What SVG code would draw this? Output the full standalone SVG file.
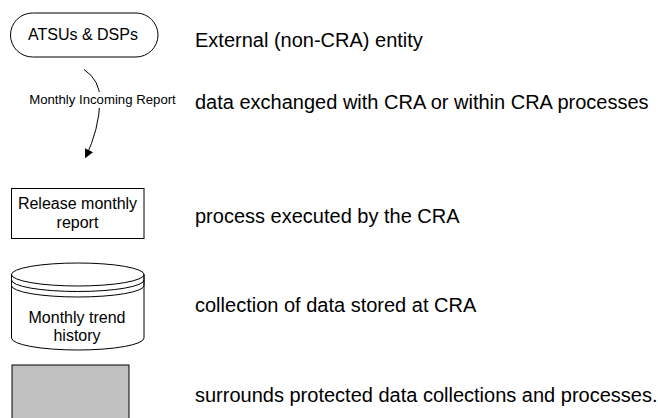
<svg xmlns="http://www.w3.org/2000/svg" width="658" height="418" viewBox="0 0 658 418">
<defs>
<style>
text{font-family:"Liberation Sans",Arial,sans-serif;fill:#000}
.lbl{font-size:20px}
.nd{font-size:16px;text-anchor:middle}
.sm{font-size:13.2px;text-anchor:middle}
.shp{fill:#fff;stroke:#000;stroke-width:1}
.edge{fill:none;stroke:#000;stroke-width:1}
</style>
<marker id="arr" viewBox="0 0 10 10" refX="9" refY="5" markerWidth="9" markerHeight="9" markerUnits="userSpaceOnUse" orient="auto">
<path d="M0,0 L10,5 L0,10 Z" fill="#000"/>
</marker>
</defs>
<rect width="658" height="418" fill="#fff"/>
<g id="connectors">
<path class="edge" d="M84,69.5 Q100,80 100,100 Q99,130 85.5,157.5" marker-end="url(#arr)"/>
<rect x="30" y="92" width="146" height="16" fill="#fff"/>
<text class="sm" x="102.5" y="104">Monthly Incoming Report</text>
</g>
<g id="external-entity">
<rect class="shp" x="10.5" y="13" width="147.5" height="44" rx="22" ry="22"/>
<text class="nd" x="83" y="40">ATSUs &amp; DSPs</text>
</g>
<g id="process">
<rect class="shp" x="11.5" y="188.5" width="132.5" height="50"/>
<text class="nd" x="77.5" y="208.5">Release monthly</text>
<text class="nd" x="77.5" y="227.5">report</text>
</g>
<g id="datastore">
<path class="shp" d="M11.5,274.5 L11.5,338 A66.25,12 0 0 0 144,338 L144,274.5 A66.25,11.5 0 0 0 11.5,274.5 Z"/>
<path class="edge" d="M11.5,274.5 A66.25,11.5 0 0 0 144,274.5"/>
<path class="edge" d="M11.5,274.5 L11.5,280 A66.25,11.5 0 0 0 144,280 L144,274.5"/>
<path class="edge" d="M11.5,280 L11.5,285.5 A66.25,11.5 0 0 0 144,285.5 L144,280"/>
<text class="nd" x="77" y="323">Monthly trend</text>
<text class="nd" x="77" y="340.5">history</text>
</g>
<g id="protected-area">
<rect x="12" y="365" width="117" height="60" fill="#c0c0c0" stroke="#000" stroke-width="1"/>
</g>
<g id="legend-texts">
<text class="lbl" x="195" y="47">External (non-CRA) entity</text>
<text class="lbl" x="195" y="108.5">data exchanged with CRA or within CRA processes</text>
<text class="lbl" x="195" y="223">process executed by the CRA</text>
<text class="lbl" x="195" y="312">collection of data stored at CRA</text>
<text class="lbl" x="195" y="402">surrounds protected data collections and processes.</text>
</g>
</svg>
